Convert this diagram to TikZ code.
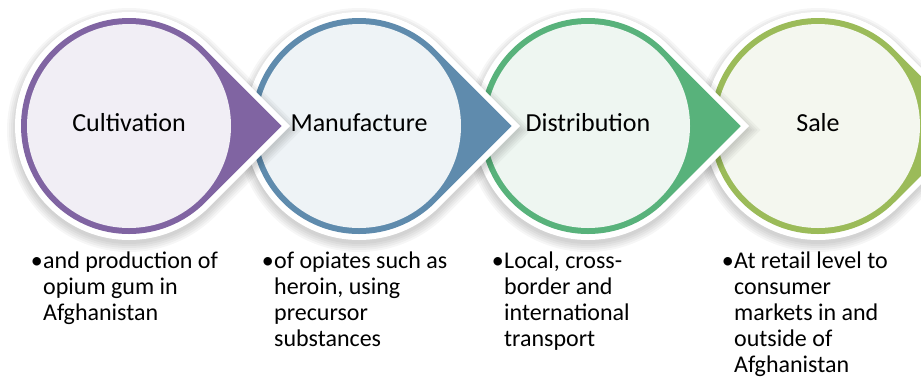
\documentclass[tikz,border=0pt]{standalone}
\usepackage{fontspec}
\setmainfont{Carlito}
\definecolor{ringA}{HTML}{8064A2}
\definecolor{fillA}{HTML}{F1EEF5}
\definecolor{ringB}{HTML}{5F8BAD}
\definecolor{fillB}{HTML}{EEF3F6}
\definecolor{ringC}{HTML}{58B27B}
\definecolor{fillC}{HTML}{EEF6F1}
\definecolor{ringD}{HTML}{9BBB59}
\definecolor{fillD}{HTML}{F4F7EF}
\tikzset{
  drop/.style={insert path={(45:#1) -- ({#1*1.41421},0) -- (-45:#1) arc[start angle=-45,end angle=-315,radius=#1] -- cycle}},
  lab/.style={anchor=base, inner sep=0pt, font=\fontsize{26}{30}\selectfont},
  desc/.style={anchor=base west, align=left, inner sep=0pt, font=\fontsize{24}{26}\selectfont},
  bul/.style={anchor=base east, inner sep=0pt, font=\fontsize{24}{26}\selectfont}
}
\begin{document}
\begin{tikzpicture}[x=1pt,y=-1pt]
\fill[white] (0,0) rectangle (921,376);
\useasboundingbox (0,0) rectangle (921,376);
\foreach \cx/\rc/\fc in {818/ringD/fillD, 588/ringC/fillC, 359/ringB/fillB, 129/ringA/fillA} {
  \begin{scope}[shift={(\cx,126)}]
    \foreach \r in {114,116,118,120,122}
      \fill[black, opacity=0.035, shift={(0,4)}, drop=\r];
    \fill[white, drop=114];
    \fill[\rc, drop=108];
    \fill[\fc] (0,0) circle[radius=102];
  \end{scope}
}
\node[lab] (la) at (129,131) {Cultivation};
\node[lab] (lb) at (359,131) {Manufacture};
\node[lab] (lc) at (588,131) {Distribution};
\node[lab] (ld) at (818,131) {Sale};
% base anchor of a multi-line node is the baseline of its last line
\node[desc] (ta) at (43,320) {and production of\\opium gum in\\Afghanistan};
\node[desc] (tb) at (274,346) {of opiates such as\\heroin, using\\precursor\\substances};
\node[desc] (tc) at (504,346) {Local, cross-\\border and\\international\\transport};
\node[desc] (td) at (734,372) {At retail level to\\consumer\\markets in and\\outside of\\Afghanistan};
\node[bul] (ba) at ([yshift=52pt]ta.base west) {•};
\node[bul] (bb) at ([yshift=78pt]tb.base west) {•};
\node[bul] (bc) at ([yshift=78pt]tc.base west) {•};
\node[bul] (bd) at ([yshift=104pt]td.base west) {•};
\end{tikzpicture}
\end{document}
